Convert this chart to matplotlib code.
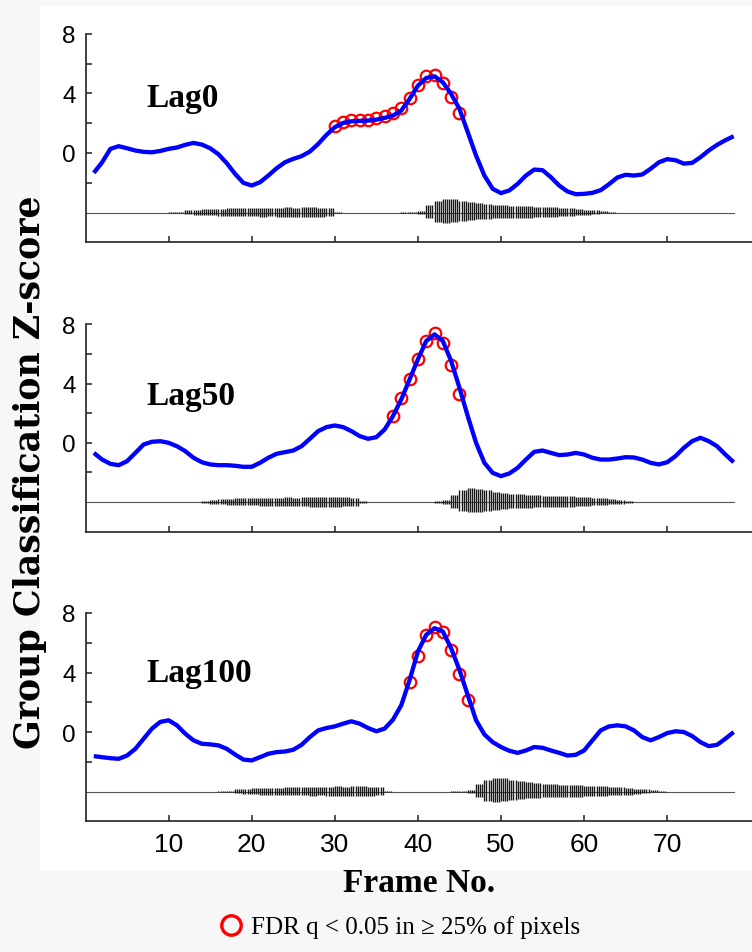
import numpy as np
import matplotlib
matplotlib.use("Agg")
import matplotlib.pyplot as plt
from matplotlib.patches import Rectangle
from matplotlib.lines import Line2D

# ---------------- data ----------------
frames = np.arange(1, 79)

lag0 = [-1.34, -0.63, 0.27, 0.45, 0.31, 0.16, 0.07, 0.04, 0.13, 0.27,
        0.36, 0.54, 0.67, 0.56, 0.31, -0.09, -0.69, -1.41, -2.01, -2.19,
        -1.97, -1.52, -1.03, -0.63, -0.40, -0.22, 0.09, 0.60, 1.21, 1.72,
        2.01, 2.12, 2.15, 2.17, 2.23, 2.35, 2.50, 2.84, 3.62, 4.51,
        5.03, 5.14, 4.74, 3.96, 2.95, 1.39, -0.18, -1.52, -2.41, -2.70,
        -2.52, -2.08, -1.52, -1.12, -1.16, -1.63, -2.19, -2.59, -2.77, -2.75,
        -2.68, -2.50, -2.10, -1.65, -1.47, -1.52, -1.45, -1.07, -0.63, -0.42,
        -0.49, -0.72, -0.67, -0.29, 0.16, 0.54, 0.85, 1.12]

lag50 = [-0.68, -1.13, -1.42, -1.51, -1.24, -0.68, -0.11, 0.07, 0.11, 0.00,
         -0.23, -0.56, -1.01, -1.31, -1.46, -1.51, -1.51, -1.55, -1.62, -1.62,
         -1.35, -1.01, -0.74, -0.63, -0.52, -0.23, 0.27, 0.79, 1.06, 1.17,
         1.06, 0.79, 0.45, 0.27, 0.38, 0.90, 1.80, 2.93, 4.28, 5.63,
         6.87, 7.32, 6.87, 5.52, 3.72, 1.80, 0.00, -1.35, -2.03, -2.25,
         -2.07, -1.69, -1.13, -0.61, -0.52, -0.68, -0.83, -0.79, -0.68, -0.79,
         -1.01, -1.13, -1.13, -1.06, -0.97, -0.99, -1.13, -1.35, -1.46, -1.31,
         -0.90, -0.34, 0.11, 0.34, 0.11, -0.23, -0.79, -1.31]

lag100 = [-1.62, -1.69, -1.76, -1.80, -1.58, -1.13, -0.45, 0.23, 0.68, 0.79,
          0.45, -0.11, -0.56, -0.79, -0.83, -0.90, -1.13, -1.51, -1.85, -1.91,
          -1.69, -1.46, -1.35, -1.31, -1.19, -0.86, -0.34, 0.11, 0.27, 0.38,
          0.56, 0.72, 0.56, 0.27, 0.05, 0.23, 0.83, 1.80, 3.49, 5.41,
          6.53, 6.98, 6.76, 5.63, 4.17, 2.48, 0.79, -0.16, -0.68, -1.01,
          -1.26, -1.40, -1.24, -1.01, -1.06, -1.24, -1.40, -1.58, -1.53, -1.24,
          -0.56, 0.11, 0.38, 0.45, 0.38, 0.11, -0.34, -0.56, -0.34, -0.07,
          0.05, 0.00, -0.27, -0.68, -0.95, -0.86, -0.45, 0.00]

sig0_frames = np.arange(30, 46)
sig0_vals = [1.82, 2.09, 2.18, 2.20, 2.22, 2.31, 2.45, 2.67, 2.98, 3.67,
             4.53, 5.15, 5.22, 4.67, 3.78, 2.65]
sig50_frames = np.arange(37, 46)
sig50_vals = [1.80, 3.00, 4.32, 5.68, 6.85, 7.43, 6.76, 5.23, 3.31]
sig100_frames = np.arange(39, 47)
sig100_vals = [3.38, 5.11, 6.49, 7.09, 6.69, 5.50, 3.90, 2.18]

panel_names = ["Lag0", "Lag50", "Lag100"]
panel_curves = [lag0, lag50, lag100]
panel_sig_frames = [sig0_frames, sig50_frames, sig100_frames]
panel_sig_vals = [sig0_vals, sig50_vals, sig100_vals]

# stimulus waveform envelope (per frame, for the unshifted panel) and lag shift in frames
wave_frames = np.arange(10, 64)
wave_upper = [0.02, 0.05, 0.15, 0.20, 0.22, 0.25, 0.25, 0.27, 0.28, 0.28,
              0.30, 0.32, 0.30, 0.32, 0.35, 0.33, 0.35, 0.35, 0.33, 0.30,
              0.04, 0.00, 0.00, 0.00, 0.00, 0.00, 0.00, 0.00, 0.02, 0.04,
              0.12, 0.50, 0.80, 0.92, 0.88, 0.80, 0.70, 0.62, 0.56, 0.52,
              0.48, 0.46, 0.44, 0.42, 0.40, 0.38, 0.35, 0.31, 0.28, 0.25,
              0.20, 0.15, 0.08, 0.02]
wave_lower = [0.02, 0.04, 0.12, 0.16, 0.18, 0.20, 0.22, 0.22, 0.24, 0.24,
              0.25, 0.27, 0.26, 0.28, 0.30, 0.30, 0.30, 0.30, 0.28, 0.25,
              0.03, 0.00, 0.00, 0.00, 0.00, 0.00, 0.00, 0.00, 0.02, 0.03,
              0.10, 0.40, 0.62, 0.68, 0.66, 0.60, 0.52, 0.46, 0.42, 0.40,
              0.38, 0.36, 0.35, 0.34, 0.32, 0.30, 0.28, 0.25, 0.22, 0.20,
              0.16, 0.12, 0.06, 0.02]
wave_shift = [0, 3, 6]

label_pos_y = [3.12, 2.64, 3.46]

# ---------------- figure ----------------
W, H = 752, 953
fig = plt.figure(figsize=(W / 100, H / 100), dpi=100, facecolor="#f7f7f7")
fig.patches.append(Rectangle((40 / W, 1 - 872 / H), 712 / W, 865 / H,
                             transform=fig.transFigure, facecolor="white",
                             edgecolor="none", zorder=-10))

x0_px = 85.5
ppf = 8.31
xmax = (W - x0_px) / ppf
panel_px = [(34.7, 243.3), (325.3, 532.7), (614.0, 822.3)]

serif = ["Liberation Serif", "DejaVu Serif"]
sans = ["Liberation Sans", "DejaVu Sans"]

for i, (top, bot) in enumerate(panel_px):
    ax = fig.add_axes([x0_px / W, 1 - bot / H, (W - x0_px) / W, (bot - top) / H])
    ax.set_zorder(1)
    ax.set_facecolor("none")
    ax.set_xlim(0, xmax)
    ax.set_ylim(-6, 8)
    for s in ["top", "right"]:
        ax.spines[s].set_visible(False)
    for s in ["left", "bottom"]:
        ax.spines[s].set_linewidth(1.2)
        ax.spines[s].set_color("#222222")

    # waveform
    sh = wave_shift[i]
    ax.plot([0, 78], [-4, -4], color="#555555", lw=0.8, zorder=2)
    sub = np.array([0.0, 0.25, 0.5, 0.75])
    xs = (np.asarray(wave_frames)[:, None] + sh + sub[None, :]).ravel()
    up = np.repeat(wave_upper, 4)
    lo = np.repeat(wave_lower, 4)
    keep = (up > 0) | (lo > 0)
    ax.vlines(xs[keep], -4 - lo[keep], -4 + up[keep], color="#1a1a1a", lw=1.0, zorder=2)

    # significance circles
    ax.plot(panel_sig_frames[i], panel_sig_vals[i], linestyle="none", marker="o",
            markersize=8.3, markerfacecolor="none", markeredgecolor="#ff0000",
            markeredgewidth=1.6, zorder=3)
    # z-score curve
    ax.plot(frames, panel_curves[i], color="#0000ff", lw=3.1, zorder=4,
            solid_capstyle="butt", solid_joinstyle="round")

    ax.text(7.35, label_pos_y[i], panel_names[i], fontsize=24, fontweight="bold",
            family=serif, va="baseline", ha="left")

    ax.set_yticks([-2, 0, 2, 4, 6, 8])
    ax.set_yticklabels(["", "0", "", "4", "", "8"])
    ax.set_xticks([10, 20, 30, 40, 50, 60, 70])
    if i == 2:
        ax.set_xticklabels(["10", "20", "30", "40", "50", "60", "70"])
    else:
        ax.set_xticklabels([])
    ax.tick_params(axis="both", direction="in", length=4, width=1.1, color="#222222")
    ax.tick_params(axis="y", labelsize=17.5, pad=7)
    ax.tick_params(axis="x", labelsize=19, pad=8)
    for lab in ax.get_xticklabels() + ax.get_yticklabels():
        lab.set_family(sans)

fig.text(30 / W, 1 - 472 / H, "Group Classification Z-score", rotation=90,
         fontsize=25, fontweight="bold", family=["DejaVu Serif"],
         ha="center", va="center")
fig.text((x0_px + W) / 2 / W, 1 - 884 / H, "Frame No.", fontsize=24,
         fontweight="bold", family=serif, ha="center", va="center")

fig.lines.append(Line2D([230.7 / W], [1 - 926 / H], transform=fig.transFigure,
                        linestyle="none", marker="o", markersize=14,
                        markerfacecolor="none", markeredgecolor="#ff0000",
                        markeredgewidth=2.4))
fig.text(251 / W, 1 - 928 / H, "FDR q < 0.05 in \u2265 25% of pixels", fontsize=18,
         family=serif, ha="left", va="center")

fig.savefig("out.png", dpi=100, facecolor=fig.get_facecolor())
